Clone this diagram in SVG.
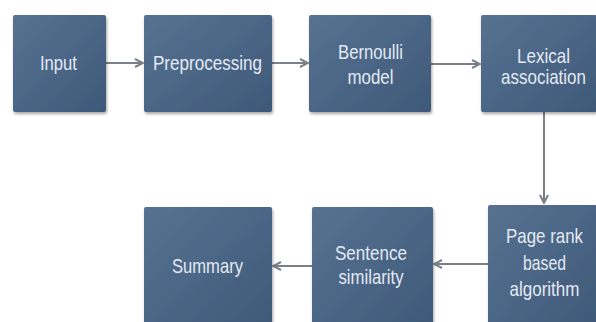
<svg xmlns="http://www.w3.org/2000/svg" width="596" height="322" viewBox="0 0 596 322">
<defs>
<linearGradient id="g" x1="0" y1="0" x2="1" y2="1">
<stop offset="0" stop-color="#57718f"/>
<stop offset="0.45" stop-color="#4c6787"/>
<stop offset="1" stop-color="#3e5878"/>
</linearGradient>
<filter id="sh" x="-10%" y="-10%" width="130%" height="130%">
<feGaussianBlur in="SourceAlpha" stdDeviation="1.5"/>
<feOffset dx="1" dy="2" result="b"/>
<feComponentTransfer><feFuncA type="linear" slope="0.35"/></feComponentTransfer>
<feMerge><feMergeNode/><feMergeNode in="SourceGraphic"/></feMerge>
</filter>
<marker id="ah" viewBox="0 0 10 10" refX="9" refY="5" markerWidth="5" markerHeight="5" orient="auto" markerUnits="strokeWidth">
<path d="M1,1 L9,5 L1,9" fill="none" stroke="#7b8088" stroke-width="2"/>
</marker>
<style>
.box{fill:url(#g);filter:url(#sh);}
.t{font-family:"Liberation Sans",Arial,sans-serif;font-size:21px;fill:#e3eaf3;text-anchor:middle;}
.c{stroke:#7b8088;stroke-width:2;fill:none;marker-end:url(#ah);}
</style>
</defs>
<rect width="596" height="322" fill="#ffffff"/>
<g id="connectors">
<line class="c" x1="106" y1="63" x2="143" y2="63"/>
<line class="c" x1="272" y1="63" x2="308" y2="63"/>
<line class="c" x1="431" y1="64" x2="480" y2="64"/>
<line class="c" x1="544" y1="112" x2="544" y2="203"/>
<line class="c" x1="488" y1="264" x2="434" y2="264"/>
<line class="c" x1="312" y1="266" x2="273" y2="266"/>
</g>
<g id="input">
<rect class="box" x="13" y="15" width="93" height="97" rx="2"/>
<text class="t" x="58.5" y="70" textLength="37" lengthAdjust="spacingAndGlyphs">Input</text>
</g>
<g id="preprocessing">
<rect class="box" x="144" y="15" width="128" height="97" rx="2"/>
<text class="t" x="207.5" y="70" textLength="109" lengthAdjust="spacingAndGlyphs">Preprocessing</text>
</g>
<g id="bernoulli">
<rect class="box" x="309" y="15" width="122" height="97" rx="2"/>
<text class="t" x="370.5" y="59" textLength="65" lengthAdjust="spacingAndGlyphs">Bernoulli</text>
<text class="t" x="370.5" y="84" textLength="46" lengthAdjust="spacingAndGlyphs">model</text>
</g>
<g id="lexical">
<rect class="box" x="481" y="15" width="116" height="97" rx="2"/>
<text class="t" x="543.5" y="63" textLength="53" lengthAdjust="spacingAndGlyphs">Lexical</text>
<text class="t" x="543.5" y="84" textLength="85" lengthAdjust="spacingAndGlyphs">association</text>
</g>
<g id="pagerank">
<rect class="box" x="488" y="205" width="109" height="125" rx="2"/>
<text class="t" x="544.5" y="243" textLength="77" lengthAdjust="spacingAndGlyphs">Page rank</text>
<text class="t" x="544.5" y="270" textLength="43" lengthAdjust="spacingAndGlyphs">based</text>
<text class="t" x="544.5" y="296" textLength="70" lengthAdjust="spacingAndGlyphs">algorithm</text>
</g>
<g id="sentence">
<rect class="box" x="312" y="207" width="121" height="123" rx="2"/>
<text class="t" x="371" y="260" textLength="72" lengthAdjust="spacingAndGlyphs">Sentence</text>
<text class="t" x="371" y="284" textLength="65" lengthAdjust="spacingAndGlyphs">similarity</text>
</g>
<g id="summary">
<rect class="box" x="144" y="207" width="128" height="123" rx="2"/>
<text class="t" x="207.5" y="273" textLength="71" lengthAdjust="spacingAndGlyphs">Summary</text>
</g>
</svg>
